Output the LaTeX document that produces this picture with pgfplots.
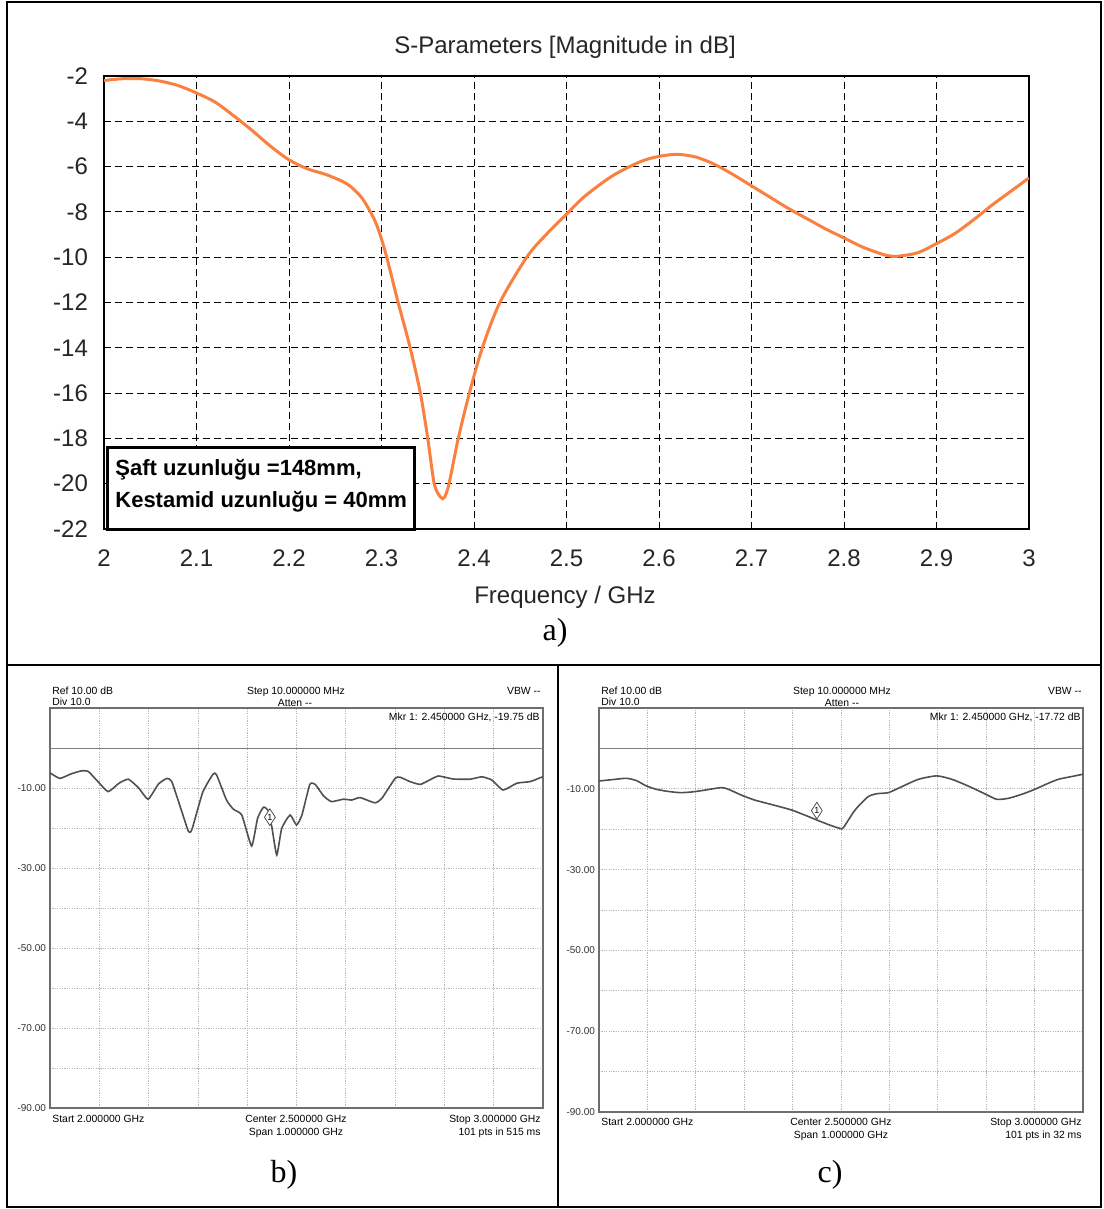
\documentclass[border=0pt]{standalone}
\usepackage{fontspec}
\setmainfont{Liberation Sans}
\newfontfamily\serifT{Liberation Serif}
\usepackage{pgfplots}
\pgfplotsset{compat=1.18}
\usetikzlibrary{shapes.geometric}
\definecolor{cstorange}{RGB}{250,128,64}
\definecolor{trace}{RGB}{80,80,80}
\definecolor{gridg}{RGB}{185,185,185}
\definecolor{frameg}{RGB}{110,110,110}

\pgfplotstableread{
f db
2.00 -2.2
2.02 -2.12
2.04 -2.12
2.06 -2.22
2.08 -2.42
2.10 -2.75
2.12 -3.15
2.14 -3.75
2.16 -4.4
2.18 -5.1
2.20 -5.7
2.22 -6.1
2.24 -6.35
2.26 -6.7
2.27 -7.0
2.28 -7.45
2.29 -8.15
2.295 -8.6
2.30 -9.2
2.305 -9.9
2.31 -10.7
2.318 -12.0
2.331 -14.0
2.342 -16.0
2.350 -18.0
2.357 -20.0
2.364 -20.6
2.368 -20.6
2.373 -20.0
2.383 -18.0
2.395 -16.0
2.409 -14.0
2.428 -12.0
2.457 -10.0
2.478 -9.0
2.50 -8.1
2.52 -7.3
2.55 -6.4
2.58 -5.78
2.60 -5.55
2.62 -5.46
2.64 -5.58
2.66 -5.9
2.68 -6.35
2.70 -6.85
2.72 -7.35
2.74 -7.85
2.76 -8.3
2.78 -8.75
2.80 -9.15
2.82 -9.55
2.84 -9.85
2.85 -9.95
2.86 -9.95
2.88 -9.8
2.90 -9.4
2.92 -8.95
2.94 -8.35
2.96 -7.7
2.98 -7.1
3.00 -6.5
}\dataA

\pgfplotstableread{
f db
2.000 -6.2
2.020 -7.6
2.042 -6.5
2.064 -5.7
2.078 -5.9
2.098 -8.5
2.118 -10.9
2.140 -8.8
2.159 -7.8
2.180 -10.0
2.199 -12.8
2.220 -9.0
2.237 -7.6
2.247 -8.4
2.265 -15.0
2.281 -20.9
2.288 -20.3
2.310 -11.0
2.331 -6.5
2.338 -6.75
2.358 -13.0
2.372 -15.3
2.389 -16.75
2.409 -24.5
2.421 -17.6
2.433 -14.8
2.443 -15.7
2.450 -19.75
2.460 -26.75
2.470 -20.1
2.487 -16.75
2.500 -19.25
2.511 -16.75
2.527 -9.1
2.538 -9.1
2.555 -12.0
2.571 -13.4
2.595 -12.8
2.612 -13.0
2.629 -12.4
2.659 -13.7
2.673 -12.6
2.700 -7.6
2.710 -7.3
2.730 -8.4
2.751 -9.1
2.770 -8.0
2.788 -7.0
2.818 -7.75
2.852 -7.8
2.876 -7.2
2.896 -8.0
2.919 -10.5
2.947 -8.8
2.974 -8.4
2.997 -7.3
3.000 -7.2
}\dataB

\pgfplotstableread{
f db
2.000 -8.07
2.030 -7.7
2.057 -7.4
2.078 -8.0
2.096 -9.2
2.116 -10.05
2.140 -10.6
2.167 -10.95
2.190 -10.8
2.212 -10.45
2.235 -10.0
2.254 -9.7
2.267 -10.1
2.295 -11.6
2.322 -12.8
2.360 -14.0
2.398 -15.25
2.425 -16.5
2.450 -17.72
2.475 -18.9
2.498 -19.8
2.505 -19.6
2.529 -15.25
2.556 -11.95
2.575 -11.2
2.598 -10.95
2.625 -9.5
2.660 -7.65
2.698 -6.8
2.729 -7.65
2.755 -8.9
2.777 -10.1
2.800 -11.4
2.822 -12.6
2.846 -12.35
2.875 -11.3
2.901 -10.1
2.925 -8.8
2.949 -7.65
2.975 -7.0
3.000 -6.4
}\dataC

\pgfplotsset{spec/.style={scale only axis,
  xmin=2, xmax=3, ymin=-90, ymax=10,
  xtick={2,2.1,2.2,2.3,2.4,2.5,2.6,2.7,2.8,2.9,3},
  xticklabels={},
  ytick={-90,-80,-70,-60,-50,-40,-30,-20,-10,0,10},
  yticklabels={-90.00,,-70.00,,-50.00,,-30.00,,-10.00,,},
  grid=major,
  major grid style={gridg, line width=0.4pt, dash pattern=on 0.6pt off 0.6pt},
  axis line style={frameg, line width=0.6pt},
  tick style={draw=none},
  yticklabel style={font=\fontsize{5}{6}\selectfont, xshift=1.5pt, color=black!80}}}

\begin{document}
\begin{tikzpicture}
\begin{scope}[x=0.5pt,y=-0.5pt]
\useasboundingbox (0,0) rectangle (1103,1209);
\fill[white] (0,0) rectangle (1103,1209);
\end{scope}

% ---------- panel a ----------
\begin{axis}[at={(52pt,-38pt)}, anchor=north west, scale only axis,
  width=462.5pt, height=226.5pt,
  xmin=2, xmax=3, ymin=-22, ymax=-2,
  xtick={2,2.1,2.2,2.3,2.4,2.5,2.6,2.7,2.8,2.9,3},
  xticklabels={2,2.1,2.2,2.3,2.4,2.5,2.6,2.7,2.8,2.9,3},
  ytick={-22,-20,-18,-16,-14,-12,-10,-8,-6,-4,-2},
  yticklabels={-22,-20,-18,-16,-14,-12,-10,-8,-6,-4,-2},
  grid=major,
  major grid style={black, line width=0.5pt, dash pattern=on 3.5pt off 2pt},
  axis line style={black, line width=1pt},
  tick style={draw=none},
  ticklabel style={font=\fontsize{12}{14}\selectfont, color=black!85},
  yticklabel style={xshift=-4.5pt},
  xticklabel style={yshift=-7pt},
]
\addplot[cstorange, line width=1.5pt, smooth, tension=0.5] table[x=f,y=db] {\dataA};
\end{axis}

% ---------- panel b ----------
\begin{axis}[at={(25pt,-354pt)}, anchor=north west, spec,
  width=246.5pt, height=200pt]
\addplot[gray, line width=0.5pt] coordinates {(2,0) (3,0)};
\addplot[trace, line width=0.8pt, smooth, tension=0.3] table[x=f,y=db] {\dataB};
\addplot[draw=none] coordinates {(2.446,-17.3)} node[diamond, draw=trace, fill=white, inner sep=0pt, minimum width=5.5pt, minimum height=8.5pt, font=\fontsize{4.5}{4.5}\selectfont] {1};
\end{axis}

% ---------- panel c ----------
\begin{axis}[at={(299.5pt,-354pt)}, anchor=north west, spec,
  width=242pt, height=202pt]
\addplot[gray, line width=0.5pt] coordinates {(2,0) (3,0)};
\addplot[trace, line width=0.8pt, smooth, tension=0.4] table[x=f,y=db] {\dataC};
\addplot[draw=none] coordinates {(2.450,-15.4)} node[diamond, draw=trace, fill=white, inner sep=0pt, minimum width=5.5pt, minimum height=8.5pt, font=\fontsize{4.5}{4.5}\selectfont] {1};
\end{axis}

\begin{scope}[x=0.5pt,y=-0.5pt]
\node[font=\fontsize{12}{14}\selectfont, color=black!85] at (565,47) {S-Parameters [Magnitude in dB]};
\node[font=\fontsize{12}{14}\selectfont, color=black!85] at (565,597) {Frequency / GHz};
\draw[line width=1.5pt, fill=white] (107,447) rectangle (414,529);
\node[anchor=base west, inner sep=0pt, font=\bfseries\fontsize{11}{13}\selectfont] at (115,475) {Şaft uzunluğu =148mm,};
\node[anchor=base west, inner sep=0pt, font=\bfseries\fontsize{11}{13}\selectfont] at (115,507) {Kestamid uzunluğu = 40mm};
\node[font=\serifT\fontsize{16}{18}\selectfont] at (555,633) {a)};

% header / footer texts
\begin{scope}[font=\fontsize{5.2}{6}\selectfont, inner sep=0pt]
\node[anchor=base west] at (52,694) {Ref 10.00 dB};
\node[anchor=base west] at (52,705) {Div 10.0};
\node[anchor=base] at (296,694) {Step 10.000000 MHz};
\node[anchor=base] at (295,706) {Atten {-}{-}};
\node[anchor=base east] at (541,694) {VBW {-}{-}};
\node[anchor=base east] at (540,720) {Mkr 1: 2.450000 GHz, -19.75 dB};
\node[anchor=base west] at (52,1122) {Start 2.000000 GHz};
\node[anchor=base] at (296,1122) {Center 2.500000 GHz};
\node[anchor=base] at (296,1135) {Span 1.000000 GHz};
\node[anchor=base east] at (541,1122) {Stop 3.000000 GHz};
\node[anchor=base east] at (541,1135) {101 pts in 515 ms};

\node[anchor=base west] at (601,694) {Ref 10.00 dB};
\node[anchor=base west] at (601,705) {Div 10.0};
\node[anchor=base] at (842,694) {Step 10.000000 MHz};
\node[anchor=base] at (842,706) {Atten {-}{-}};
\node[anchor=base east] at (1082,694) {VBW {-}{-}};
\node[anchor=base east] at (1081,720) {Mkr 1: 2.450000 GHz, -17.72 dB};
\node[anchor=base west] at (601,1125) {Start 2.000000 GHz};
\node[anchor=base] at (841,1125) {Center 2.500000 GHz};
\node[anchor=base] at (841,1138) {Span 1.000000 GHz};
\node[anchor=base east] at (1082,1125) {Stop 3.000000 GHz};
\node[anchor=base east] at (1082,1138) {101 pts in 32 ms};
\end{scope}
\node[font=\serifT\fontsize{16}{18}\selectfont] at (284,1175) {b)};
\node[font=\serifT\fontsize{16}{18}\selectfont] at (830,1175) {c)};

% frames
\draw[line width=1pt] (7,2) rectangle (1101,1207);
\draw[line width=1pt] (7,665) -- (1101,665);
\draw[line width=1pt] (558,665) -- (558,1207);
\end{scope}
\end{tikzpicture}
\end{document}
